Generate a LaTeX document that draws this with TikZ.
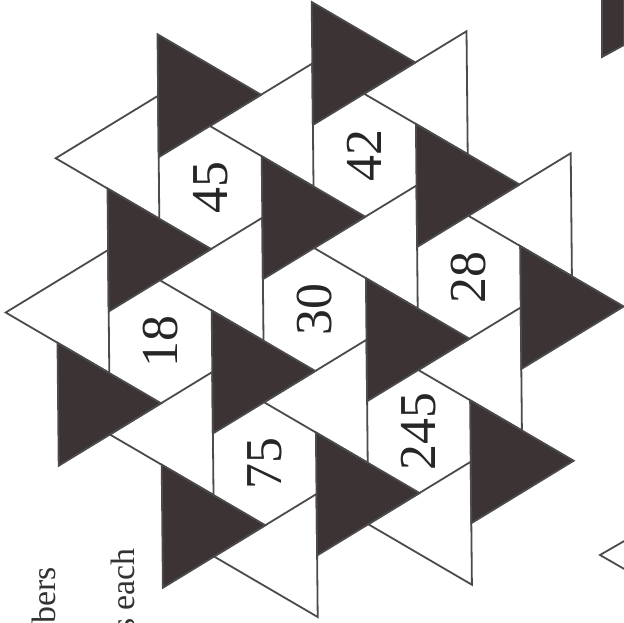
\documentclass[tikz,border=0pt]{standalone}
\usepackage{fontspec}
\setmainfont{Liberation Serif}
\usepackage{xcolor}

\definecolor{inkdark}{RGB}{60,51,53}
\definecolor{edgegray}{RGB}{75,75,75}

\tikzset{
    tile/.style={draw=edgegray, line width=1.8bp, line join=miter},
    darktile/.style={tile, fill=inkdark},
    lighttile/.style={tile, fill=white},
    cellnum/.style={rotate=90, inner sep=0pt, text=black!85, font=\fontsize{52}{52}\selectfont},
    pagetext/.style={rotate=90, inner sep=0pt, text=black!80, font=\fontsize{34}{34}\selectfont}
}

\begin{document}
\begin{tikzpicture}[x=1bp, y=1bp]
    \useasboundingbox (0,0) rectangle (624,623);
    \clip (0,0) rectangle (624,623);

    % lattice frame: hexagon side = 1, second axis runs down the page
    \begin{scope}[shift={(210.5,435.5)}, x={(59.47bp,0.58bp)}, y={(0.6bp,-61.5bp)}]
        % white triangles, apex to the left
        \foreach \i/\j in {-1/-1, 0/-1, 1/-1, -1/0, 0/0, 1/0, 2/0, 0/1, 1/1, 2/1, 1/2, 2/2}
            \filldraw[lighttile, shift={({2.598*\i-0.866*\j},{-0.5*\i+2.5*\j})}]
                (0.866,0.5) -- (-0.866,1.5) -- (0.866,2.5) -- cycle;
        % dark triangles, apex to the right
        \foreach \i/\j in {-1/-1, 0/-1, -1/0, 0/0, 1/0, -1/1, 0/1, 1/1, 2/1, 0/2, 1/2, 2/2}
            \filldraw[darktile, shift={({2.598*\i-0.866*\j},{-0.5*\i+2.5*\j})}]
                (0.866,-0.5) -- (0.866,1.5) -- (2.598,0.5) -- cycle;
        % numbers in the hexagons
        \foreach \i/\j/\num in {0/0/45, 1/0/42, 0/1/18, 1/1/30, 2/1/28, 1/2/75, 2/2/245}
            \node[cellnum] (cell\num) at ({2.598*\i-0.866*\j},{-0.5*\i+2.5*\j}) {\num};
    \end{scope}

    % pieces of the neighbouring figure and page text
    \filldraw[darktile] (602,630) -- (602,566) -- (624,578) -- (624,630) -- cycle;
    \draw[tile] (626,83) -- (600,68) -- (626,53);
    \node[pagetext, anchor=base west] (wordbers) at (55,-1) {bers};
    \node[pagetext, anchor=base east] (wordeach) at (134,75) {s each};
\end{tikzpicture}
\end{document}
